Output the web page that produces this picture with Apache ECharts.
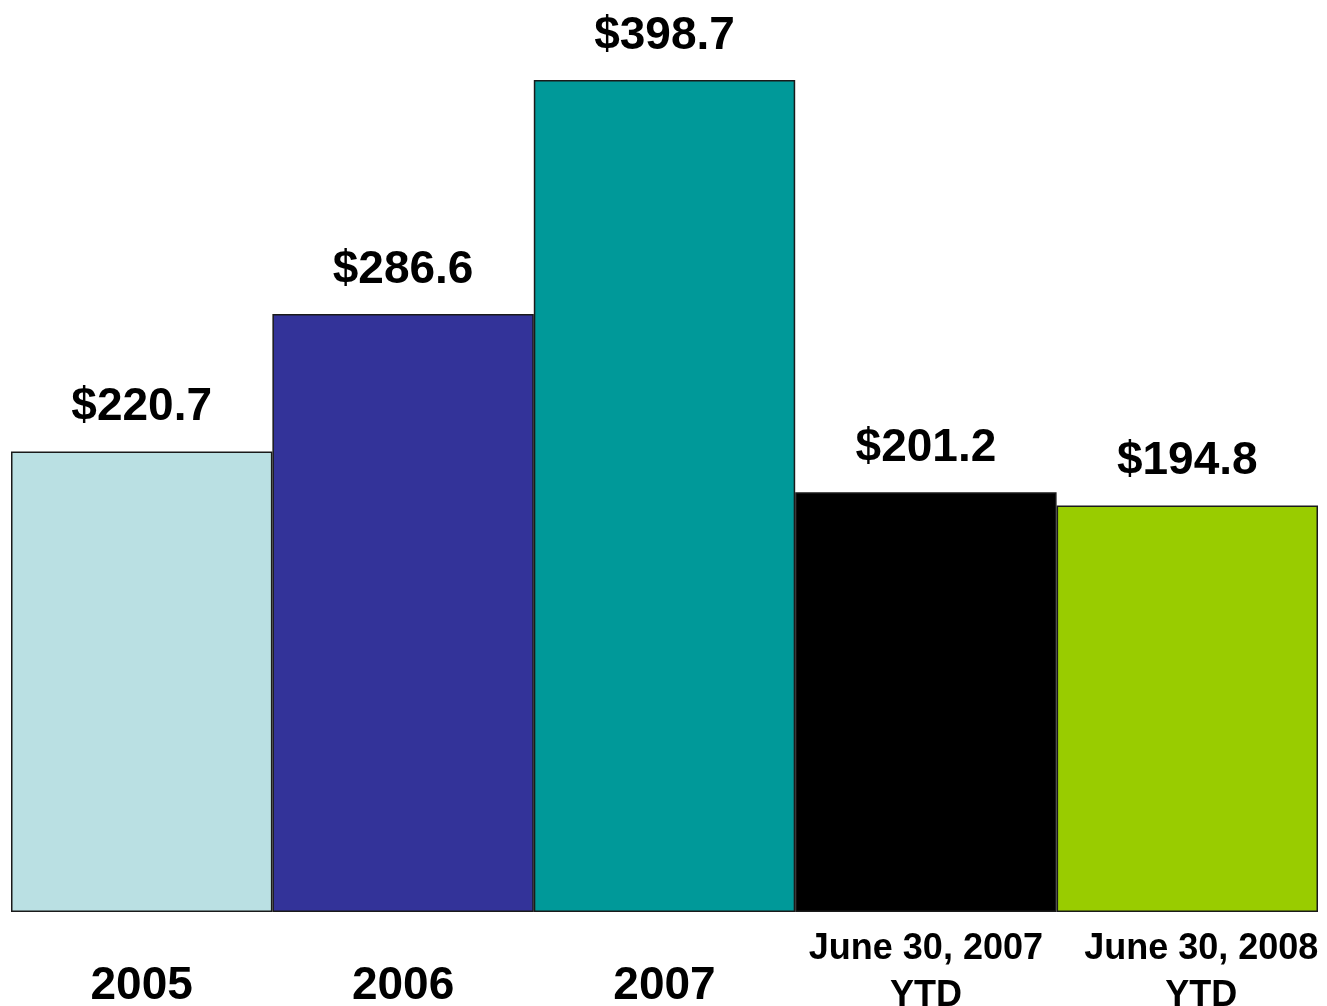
<!DOCTYPE html>
<html>
<head>
<meta charset="utf-8">
<script src="https://cdn.jsdelivr.net/npm/echarts@6/dist/echarts.min.js"></script>
<style>
  html, body { margin: 0; padding: 0; background: #fff; }
  #main { width: 1327px; height: 1006px; }
</style>
</head>
<body>
<div id="main"></div>
<script>
var categories = ["2005", "2006", "2007", "June 30, 2007\nYTD", "June 30, 2008\nYTD"];
var values = [220.7, 286.6, 398.7, 201.2, 194.8];
var barColors = ["#BAE0E3", "#333399", "#009999", "#000000", "#99CC00"];

var myChart = echarts.init(document.getElementById("main"));

var labelFont = "Liberation Sans, Arial, sans-serif";

myChart.setOption({
  animation: false,
  grid: {
    left: 11,
    right: 9,
    top: 80,
    bottom: 94,
    outerBoundsMode: "none",
    containLabel: false,
  },
  xAxis: {
    type: "category",
    data: categories,
    axisLine: { show: false },
    axisTick: { show: false },
    axisLabel: {
      interval: 0,
      margin: 14,
      formatter: (v, idx) => {
        // the two YTD labels are smaller and sit higher
        if (v.indexOf("\n") > -1) {
          var st = idx === categories.length - 1 ? "k" : "j";
          return v
            .split("\n")
            .map((s) => "{" + st + "|" + s + "}")
            .join("\n");
        }
        return "{y|" + v + "}";
      },
      rich: {
        y: {
          fontFamily: labelFont,
          fontWeight: "bold",
          fontSize: 46,
          lineHeight: 120,
          color: "#000",
        },
        j: {
          fontFamily: labelFont,
          fontWeight: "bold",
          fontSize: 36,
          lineHeight: 47,
          color: "#000",
        },
        k: {
          fontFamily: labelFont,
          fontWeight: "bold",
          fontSize: 36,
          lineHeight: 47,
          color: "#000",
          padding: [0, 0, 0, 28],
        },
      },
    },
  },
  yAxis: {
    type: "value",
    min: 0,
    max: 398.7,
    show: false,
    splitLine: { show: false },
  },
  series: [
    {
      type: "bar",
      barCategoryGap: 0,
      data: values.map((v, i) => ({
        value: v,
        itemStyle: { color: barColors[i] },
      })),
      itemStyle: {
        borderColor: "#1a1a1a",
        borderWidth: 1.5,
      },
      label: {
        show: true,
        position: "top",
        distance: 21,
        fontFamily: labelFont,
        fontWeight: "bold",
        fontSize: 46,
        color: "#000",
        formatter: (p) => "$" + p.value.toFixed(1),
      },
    },
  ],
});
</script>
</body>
</html>
